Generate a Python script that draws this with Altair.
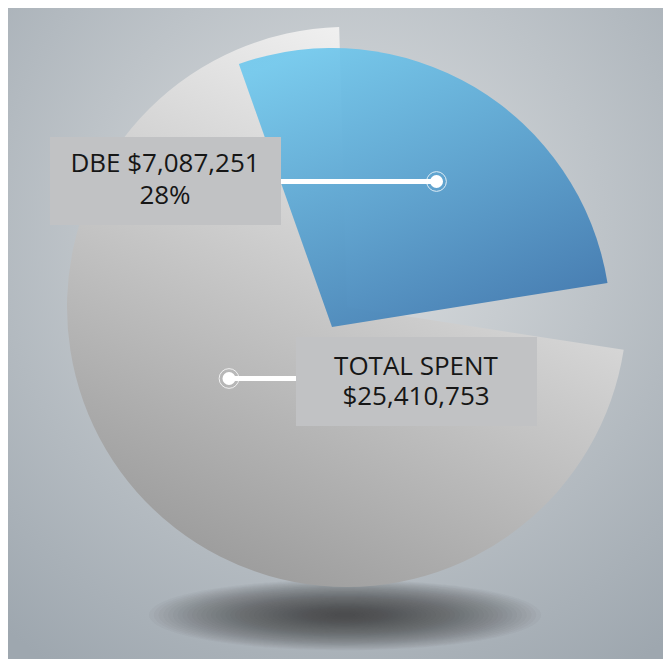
import math
import altair as alt
import pandas as pd

# ---- data ----
categories = ["DBE", "Other"]
values = [7087251, 25410753 - 7087251]
total_spent = 25410753

dbe_label = [f"DBE ${values[0]:,}", f"{round(100 * values[0] / total_spent)}%"]
total_label = ["TOTAL SPENT", f"${total_spent:,}"]

df = pd.DataFrame({"category": categories, "value": values})
df["end"] = df["value"].cumsum()
df["start"] = df["end"] - df["value"]
one = pd.DataFrame({"k": [0]})

W, H = 655, 651
FONT = "Open Sans"

def theta_scale(offset_deg):
    a = math.radians(offset_deg)
    return alt.Scale(domain=[0, total_spent], range=[a, a + 2 * math.pi])

bg_grad = alt.RadialGradient(
    gradient="radial",
    stops=[alt.GradientStop(offset=0, color="#dcdfe1"),
           alt.GradientStop(offset=1, color="#9ea7af")],
    x1=0.51, y1=0.34, r1=0, x2=0.51, y2=0.34, r2=0.8,
)
grey_grad = alt.LinearGradient(
    gradient="linear",
    stops=[alt.GradientStop(offset=0, color="#f8f8f8"),
           alt.GradientStop(offset=1, color="#9c9c9c")],
    x1=0.75, y1=0.02, x2=0.3, y2=0.98,
)
blue_grad = alt.LinearGradient(
    gradient="linear",
    stops=[alt.GradientStop(offset=0, color="#70c8ed"),
           alt.GradientStop(offset=1, color="#3e78b0")],
    x1=0.2, y1=0.0, x2=0.75, y2=1.0,
)

background = alt.Chart(one).mark_rect(fill=bg_grad).encode(
    x=alt.value(0), x2=alt.value(W), y=alt.value(0), y2=alt.value(H))

# soft elliptical shadow: many stacked translucent ellipses
ELLIPSE = "M -1 0 A 1 0.18 0 1 0 1 0 A 1 0.18 0 1 0 -1 0 Z"
shadow_layers = []
n_sh = 40
for i in range(n_sh):
    rx = 196 - i * (186 / (n_sh - 1))
    shadow_layers.append(
        alt.Chart(one).mark_point(
            shape=ELLIPSE, filled=True, fill="#3b3e40", opacity=0.036, strokeWidth=0,
            size=(2 * rx) ** 2,
        ).encode(x=alt.value(337), y=alt.value(607))
    )

grey = alt.Chart(df).transform_filter("datum.category == 'Other'").mark_arc(
    x=339, y=299, radius=280, fill=grey_grad, stroke=None
).encode(theta=alt.Theta("start:Q", scale=theta_scale(-1.6)), theta2="end:Q")

blue = alt.Chart(df).transform_filter("datum.category == 'DBE'").mark_arc(
    x=324, y=319, radius=279, fill=blue_grad, opacity=0.92, stroke=None
).encode(theta=alt.Theta("start:Q", scale=theta_scale(-19.5)), theta2="end:Q")

box_color = "#c1c2c4"
box1 = alt.Chart(one).mark_rect(fill=box_color).encode(
    x=alt.value(42), x2=alt.value(273), y=alt.value(129), y2=alt.value(217))
box2 = alt.Chart(one).mark_rect(fill=box_color).encode(
    x=alt.value(288), x2=alt.value(529), y=alt.value(329), y2=alt.value(418))

line1 = alt.Chart(one).mark_rule(color="white", strokeWidth=5).encode(
    x=alt.value(273), x2=alt.value(428), y=alt.value(173.5))
line2 = alt.Chart(one).mark_rule(color="white", strokeWidth=5).encode(
    x=alt.value(221), x2=alt.value(288), y=alt.value(370.5))

def dot(x, y):
    d = alt.Chart(one).mark_point(filled=True, fill="white", opacity=1, size=170, shape="circle", strokeWidth=0).encode(
        x=alt.value(x), y=alt.value(y))
    ring = alt.Chart(one).mark_point(filled=False, stroke="white", strokeWidth=1, opacity=0.8, size=390, shape="circle").encode(
        x=alt.value(x), y=alt.value(y))
    return d + ring

def text(lines, x, y0, lh):
    return alt.Chart(one).mark_text(
        text=lines, font=FONT, fontSize=26, lineHeight=lh, color="#161616",
        align="center", baseline="alphabetic"
    ).encode(x=alt.value(x), y=alt.value(y0))

chart = alt.layer(
    background, *shadow_layers, grey, blue, box1, box2, line1, line2,
    dot(428.5, 173.5), dot(221, 370.5),
    text(dbe_label, 157, 164, 32), text(total_label, 408, 367, 30),
).resolve_scale(theta="independent").properties(
    width=W, height=H, padding=0,
    autosize=alt.AutoSizeParams(type="fit", contains="padding"),
).configure_view(stroke=None)

chart.save("out.html", embed_options={"renderer": "svg", "actions": False})
